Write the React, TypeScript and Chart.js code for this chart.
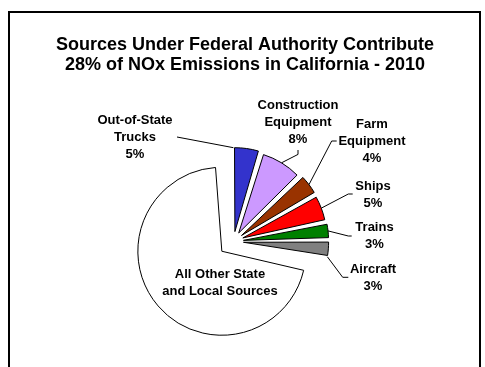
import React, { useEffect, useRef } from 'react';
import { Chart, registerables } from 'chart.js';

Chart.register(...registerables);

const FONT = '"Liberation Sans", Arial, Helvetica, sans-serif';

// ---- data ----
const titleLines = [
  'Sources Under Federal Authority Contribute',
  '28% of NOx Emissions in California - 2010',
];
const categories = [
  'Out-of-State Trucks',
  'Construction Equipment',
  'Farm Equipment',
  'Ships',
  'Trains',
  'Aircraft',
  'All Other State and Local Sources',
];
const categoryLines = [
  ['Out-of-State', 'Trucks'],
  ['Construction', 'Equipment'],
  ['Farm', 'Equipment'],
  ['Ships'],
  ['Trains'],
  ['Aircraft'],
  ['All Other State', 'and Local Sources'],
];
const shares = [5, 8, 4, 5, 3, 3, 72];
const showShare = [true, true, true, true, true, true, false];

// ---- styles / layout (kept apart from data) ----
const sliceColors = ['#3333CC', '#CC99FF', '#993300', '#FF0000', '#008000', '#808080', '#FFFFFF'];
const isFederal = [true, true, true, true, true, true, false];
// label centre relative to pie centre; leader: f = fraction along slice edge, pts relative to label centre
const labelLayout = [
  { dx: -98.5, dy: -105.1, lead: { f: 0, pts: [[42, 0.6]] } },
  { dx: 64.5, dy: -120.1, lead: { f: 0.5, pts: [[0, 33], [0, 28.6]] } },
  { dx: 138.5, dy: -101.1, lead: { f: 0.5, pts: [[-40.3, 0.6], [-35.3, 0.6]] } },
  { dx: 139.5, dy: -47.8, lead: { f: 0.5, pts: [[-24.7, 0.3], [-20.3, 0.3]] } },
  { dx: 141, dy: -7, lead: { f: 0.5, pts: [[-26.2, 1.5], [-22.8, 1.5]] } },
  { dx: 139.5, dy: 35.5, lead: { f: 1, pts: [[-30.3, 0.3], [-24.7, 0.3]] } },
  { dx: -13.5, dy: 39.9, lead: null },
];
const LABEL_LH = 17;
const CAP = 9.3;

const labelPlugin = {
  id: 'sliceLabels',
  afterDatasetsDraw(chart: any) {
    const ctx = chart.ctx;
    const meta = chart.getDatasetMeta(0);
    ctx.save();
    ctx.font = 'bold 13px ' + FONT;
    ctx.fillStyle = '#000';
    ctx.strokeStyle = '#000';
    ctx.lineWidth = 1;
    ctx.textAlign = 'center';
    ctx.textBaseline = 'alphabetic';
    meta.data.forEach((arc: any, i: number) => {
      const p = arc.getProps(['x', 'y', 'startAngle', 'endAngle', 'outerRadius'], true);
      const off = (arc.options.offset || 0) / 4;
      const circ = p.endAngle - p.startAngle;
      const mid = (p.startAngle + p.endAngle) / 2;
      const fix = 1 - Math.sin(Math.min(Math.PI, circ));
      const tx = p.x + Math.cos(mid) * off;
      const ty = p.y + Math.sin(mid) * off;
      const r = p.outerRadius + off * fix;
      const lay = labelLayout[i];
      const cx = p.x + lay.dx;
      const cy = p.y + lay.dy;
      if (lay.lead) {
        const a = p.startAngle + lay.lead.f * circ;
        ctx.beginPath();
        ctx.moveTo(tx + Math.cos(a) * r, ty + Math.sin(a) * r);
        lay.lead.pts.forEach(([px, py]: number[]) => ctx.lineTo(cx + px, cy + py));
        ctx.stroke();
      }
      const lines = showShare[i] ? [...categoryLines[i], shares[i] + '%'] : categoryLines[i];
      const first = cy + CAP / 2 - ((lines.length - 1) * LABEL_LH) / 2;
      lines.forEach((t: string, k: number) => ctx.fillText(t, cx, first + k * LABEL_LH));
    });
    ctx.restore();
  },
};

export default function App() {
  const refA = useRef<HTMLCanvasElement>(null);
  const refB = useRef<HTMLCanvasElement>(null);

  useEffect(() => {
    // background chart: the large "all other" slice, exploded, plus the title
    const chartB = new Chart(refB.current as HTMLCanvasElement, {
      type: 'pie',
      data: {
        labels: categories,
        datasets: [
          {
            data: shares,
            backgroundColor: sliceColors.map((c, i) => (isFederal[i] ? 'rgba(0,0,0,0)' : c)),
            borderColor: '#000',
            borderWidth: isFederal.map((f) => (f ? 0 : 1)),
            offset: isFederal.map((f) => (f ? 0 : 122)),
            radius: 53.5,
            clip: false,
          } as any,
        ],
      },
      options: {
        responsive: false,
        animation: false,
        events: [],
        rotation: -1,
        layout: { padding: { left: 40, right: 35, top: 34.8, bottom: 39 } },
        plugins: {
          legend: { display: false },
          tooltip: { enabled: false },
          title: {
            display: true,
            text: titleLines,
            color: '#000',
            font: { family: FONT, size: 18, weight: 'bold', lineHeight: 1.111 },
            padding: { top: 0, bottom: 60 },
          },
        },
      } as any,
    });

    // foreground chart: the federal sources, slightly exploded, with labels
    const chartA = new Chart(refA.current as HTMLCanvasElement, {
      type: 'pie',
      data: {
        labels: categories,
        datasets: [
          {
            data: shares,
            backgroundColor: sliceColors.map((c, i) => (isFederal[i] ? c : 'rgba(0,0,0,0)')),
            borderColor: '#000',
            borderWidth: isFederal.map((f) => (f ? 1 : 0)),
            offset: isFederal.map((f) => (f ? 40 : 0)),
            radius: 77,
            clip: false,
          } as any,
        ],
      },
      options: {
        responsive: false,
        animation: false,
        events: [],
        rotation: -1,
        layout: { padding: { left: 100, right: 118, top: 150, bottom: 34 } },
        plugins: {
          legend: { display: false },
          tooltip: { enabled: false },
          title: { display: false },
        },
      } as any,
      plugins: [labelPlugin],
    });

    return () => {
      chartA.destroy();
      chartB.destroy();
    };
  }, []);

  return (
    <div
      style={{
        position: 'absolute',
        left: 0,
        top: 0,
        width: 485,
        height: 367,
        overflow: 'hidden',
        background: '#fff',
      }}
    >
      <div
        style={{
          position: 'absolute',
          left: 8,
          top: 11,
          width: 473,
          height: 420,
          border: '2px solid #000',
          boxSizing: 'border-box',
        }}
      />
      <canvas ref={refB} width={485} height={367} style={{ position: 'absolute', left: 0, top: 0 }} />
      <canvas ref={refA} width={485} height={367} style={{ position: 'absolute', left: 0, top: 0 }} />
    </div>
  );
}
